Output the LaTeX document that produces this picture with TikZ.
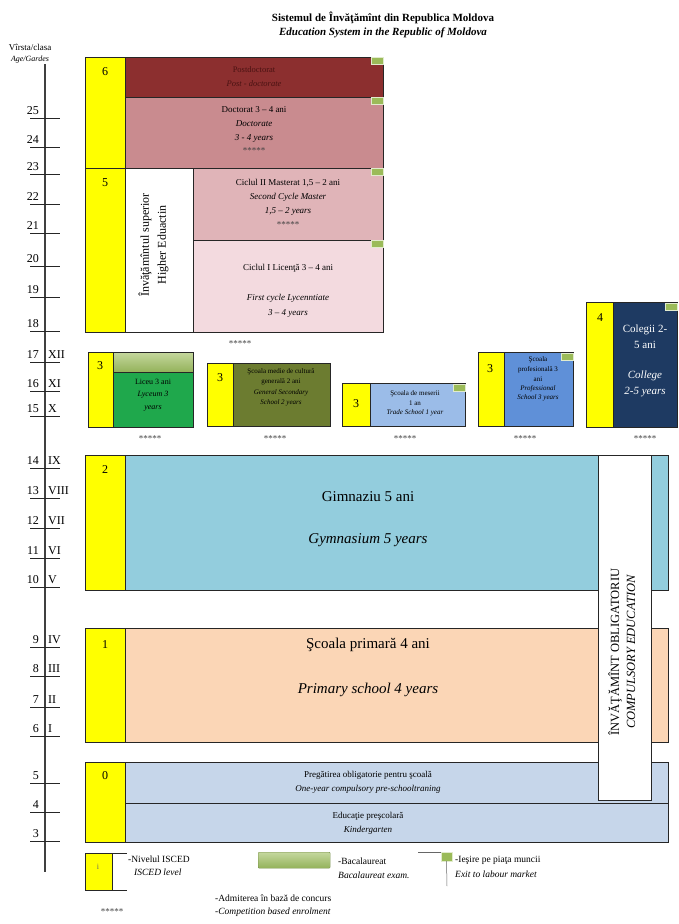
\documentclass[tikz,border=0pt]{standalone}
\usepackage{fontspec}
\setmainfont{Liberation Serif}
\definecolor{isyellow}{HTML}{FFFF00}
\definecolor{postdoc}{HTML}{8C2F2F}
\definecolor{postdoctxt}{HTML}{4A1212}
\definecolor{doct}{HTML}{C98B8F}
\definecolor{mast}{HTML}{E0B4B8}
\definecolor{lic}{HTML}{F3DADF}
\definecolor{lyc}{HTML}{1FA84C}
\definecolor{bactop}{HTML}{C5D89E}
\definecolor{bacbot}{HTML}{93B25A}
\definecolor{gensec}{HTML}{6C7C30}
\definecolor{trade}{HTML}{9BBCE8}
\definecolor{prof}{HTML}{5F90D8}
\definecolor{coll}{HTML}{1E3A62}
\definecolor{gym}{HTML}{93CDDD}
\definecolor{prim}{HTML}{FBD6B6}
\definecolor{presch}{HTML}{C6D6EA}
\definecolor{exitg}{HTML}{9BBB59}
\definecolor{edge}{HTML}{262626}
\newcommand\fs[1]{\fontsize{#1}{#1}\selectfont}
% \rbox{name}{style}{x1}{y1}{x2}{y2}: rectangle between two corners
\newcommand\rbox[6]{\node[#2, anchor=north west, minimum width={(#5-#3)*1pt},
  minimum height={(#6-#4)*1pt}] (#1) at (#3,#4) {};}
\begin{document}
\begin{tikzpicture}[x=1pt,y=-1pt,
  cell/.style={draw=edge, line width=0.8pt, inner sep=0pt, outer sep=0pt},
  lvl/.style={cell, fill=isyellow},
  exitmark/.style={draw=white!70!exitg, line width=0.4pt, fill=exitg, inner sep=0pt,
    outer sep=0pt, minimum width=12pt, minimum height=7pt, anchor=north east},
  lbl/.style={inner sep=0pt, align=center},
  lvlnum/.style={lbl, font=\fs{12}},
  agenum/.style={inner sep=0pt, anchor=east, font=\fs{12}},
  roman/.style={inner sep=0pt, anchor=west, font=\fs{12}},
  tick/.style={line width=0.6pt, draw=edge},
  stars/.style={lbl, font=\fs{9}, text=black!75},
  legtxt/.style={inner sep=0pt, anchor=west, align=left, font=\fs{9.5}}
]
\fill[white] (0,0) rectangle (678,924);

% ---------- title ----------
\node[lbl, font=\fs{11}\bfseries] (title) at (383,18) {Sistemul de Învăţămînt din Republica Moldova};
\node[lbl, font=\fs{11}\bfseries\itshape] (subtitle) at (383,33) {Education System in the Republic of Moldova};

% ---------- age / grade axis ----------
\node[lbl, font=\fs{9}] (axhead) at (30,47) {Vîrsta/clasa};
\node[lbl, font=\fs{8}\itshape] (axsub) at (30,60) {Age/Gardes};
\draw[line width=2.2pt, draw=black!75] (45,64) -- (45,872);
\foreach \a/\r/\yy in {25//111, 24//140, 23//167, 22//197, 21//226, 20//259, 19//290,
  18//324, 17/XII/355, 16/XI/384, 15/X/409, 14/IX/461, 13/VIII/491, 12/VII/521,
  11/VI/551, 10/V/580, 9/IV/640, 8/III/669, 7/II/700, 6/I/729, 5//776, 4//805, 3//834}{
  \node[agenum] (age\a) at (39,\yy) {\a};
  \node[roman] (cls\a) at (48,\yy) {\r};
  \draw[tick] (30,\yy+7) -- (60,\yy+7);
}

% ---------- higher education (ISCED 5-6) ----------
\rbox{lvl6}{lvl}{85}{57}{125}{168}
\rbox{lvl5}{lvl}{85}{168}{125}{332}
\node[lvlnum] (n6) at (105,72) {6};
\node[lvlnum] (n5) at (105,183) {5};

\rbox{postdoc}{cell, fill=postdoc}{125}{57}{383}{97}
\node[lbl, font=\fs{8.5}, text=postdoctxt] (tpd1) at (254,70) {Postdoctorat};
\node[lbl, font=\fs{8.5}\itshape, text=postdoctxt] (tpd2) at (254,84) {Post - doctorate};

\rbox{doct}{cell, fill=doct}{125}{97}{383}{168}
\node[lbl, font=\fs{9}] (td1) at (254,110) {Doctorat 3 – 4 ani};
\node[lbl, font=\fs{9}\itshape] (td2) at (254,124) {Doctorate};
\node[lbl, font=\fs{9}\itshape] (td3) at (254,138) {3 - 4  years};
\node[stars] (td4) at (254,151) {*****};

\rbox{hewhite}{cell, fill=white}{125}{168}{193}{332}
\node[lbl, font=\fs{12}, rotate=90] (he1) at (145,245) {Învăţămîntul superior};
\node[lbl, font=\fs{12}, rotate=90] (he2) at (163,245) {Higher Eduactin};

\rbox{mast}{cell, fill=mast}{193}{168}{383}{240}
\node[lbl, font=\fs{9}] (tm1) at (288,183) {Ciclul II Masterat 1,5 – 2 ani};
\node[lbl, font=\fs{9}\itshape] (tm2) at (288,197) {Second Cycle Master};
\node[lbl, font=\fs{9}\itshape] (tm3) at (288,211) {1,5 – 2  years};
\node[stars] (tm4) at (288,225) {*****};

\rbox{lic}{cell, fill=lic}{193}{240}{383}{332}
\node[lbl, font=\fs{9}] (tl1) at (288,268) {Ciclul I Licenţă 3 – 4 ani};
\node[lbl, font=\fs{9}\itshape] (tl2) at (288,298) {First cycle Lycenntiate};
\node[lbl, font=\fs{9}\itshape] (tl3) at (288,313) {3 – 4  years};
\node[stars] (sthe) at (240,344) {*****};

\node[exitmark] (xpd) at (383,57) {};
\node[exitmark] (xdo) at (383,97) {};
\node[exitmark] (xma) at (383,168) {};
\node[exitmark] (xli) at (383,240) {};

% ---------- upper secondary (ISCED 3-4) ----------
% lyceum
\rbox{lycy}{lvl}{88}{352}{113}{427}
\node[lvlnum] (nly) at (100,366) {3};
\rbox{lycb}{cell, fill=lyc}{113}{372}{193}{427}
\node[cell, anchor=north west, top color=bactop, bottom color=bacbot, minimum width=80pt,
  minimum height=20pt] (lycbac) at (113,352) {};
\node[lbl, font=\fs{8}] (tly1) at (153,382) {Liceu 3 ani};
\node[lbl, font=\fs{8}\itshape] (tly2) at (153,395) {Lyceum 3};
\node[lbl, font=\fs{8}\itshape] (tly3) at (153,408) {years};
\node[stars] (sly) at (150,439) {*****};

% general secondary school
\rbox{gsy}{lvl}{207}{363}{233}{426}
\node[lvlnum] (ngs) at (220,378) {3};
\rbox{gsb}{cell, fill=gensec}{233}{363}{330}{426}
\node[lbl, font=\fs{7}] (tgs1) at (281,372) {Şcoala medie de cultură};
\node[lbl, font=\fs{7}] (tgs2) at (281,382) {generală 2 ani};
\node[lbl, font=\fs{7}\itshape] (tgs3) at (281,393) {General Secondary};
\node[lbl, font=\fs{7}\itshape] (tgs4) at (281,403) {School 2 years};
\node[stars] (sgs) at (275,439) {*****};

% trade school
\rbox{try}{lvl}{342}{383}{370}{426}
\node[lvlnum] (ntr) at (356,404) {3};
\rbox{trb}{cell, fill=trade}{370}{383}{465}{426}
\node[lbl, font=\fs{7}] (ttr1) at (415,394) {Şcoala de meserii};
\node[lbl, font=\fs{7}] (ttr2) at (415,403) {1 an};
\node[lbl, font=\fs{7}\itshape] (ttr3) at (415,413) {Trade School 1 year};
\node[exitmark] (xtr) at (465,384) {};
\node[stars] (str) at (405,439) {*****};

% professional school
\rbox{pry}{lvl}{478}{352}{504}{426}
\node[lvlnum] (npr) at (490,369) {3};
\rbox{prb}{cell, fill=prof}{504}{352}{573}{426}
\node[lbl, font=\fs{7}] (tpr1) at (538,360) {Şcoala};
\node[lbl, font=\fs{7}] (tpr2) at (538,370) {profesională 3};
\node[lbl, font=\fs{7}] (tpr3) at (538,379) {ani};
\node[lbl, font=\fs{7}\itshape] (tpr4) at (538,389) {Professional};
\node[lbl, font=\fs{7}\itshape] (tpr5) at (538,398) {School 3 years};
\node[exitmark] (xpr) at (573,353) {};
\node[stars] (spr) at (525,439) {*****};

% college
\rbox{coy}{lvl}{586}{302}{613}{427}
\node[lvlnum] (nco) at (600,318) {4};
\rbox{cob}{cell, fill=coll}{613}{302}{677}{427}
\node[lbl, font=\fs{11}, text=white] (tco1) at (645,330) {Colegii 2-};
\node[lbl, font=\fs{11}, text=white] (tco2) at (645,345) {5 ani};
\node[lbl, font=\fs{11}\itshape, text=white] (tco3) at (645,376) {College};
\node[lbl, font=\fs{11}\itshape, text=white] (tco4) at (645,392) {2-5 years};
\node[exitmark] (xco) at (677,303) {};
\node[stars] (sco) at (645,439) {*****};

% ---------- gymnasium (ISCED 2) ----------
\rbox{gymy}{lvl}{85}{455}{125}{590}
\node[lvlnum] (n2) at (105,470) {2};
\rbox{gymb}{cell, fill=gym}{125}{455}{668}{590}
\node[lbl, font=\fs{15}] (tg1) at (368,497) {Gimnaziu 5 ani};
\node[lbl, font=\fs{15}\itshape] (tg2) at (368,540) {Gymnasium 5 years};

% ---------- primary (ISCED 1) ----------
\rbox{primy}{lvl}{85}{628}{125}{742}
\node[lvlnum] (n1) at (105,645) {1};
\rbox{primb}{cell, fill=prim}{125}{628}{668}{742}
\node[lbl, font=\fs{15}] (tp1) at (368,645) {Şcoala primară 4 ani};
\node[lbl, font=\fs{15}\itshape] (tp2) at (368,690) {Primary school 4 years};

% ---------- pre-school (ISCED 0) ----------
\rbox{presy}{lvl}{85}{762}{125}{842}
\node[lvlnum] (n0) at (105,776) {0};
\rbox{presa}{cell, fill=presch}{125}{762}{668}{803}
\node[lbl, font=\fs{9}] (tk1) at (368,775) {Pregătirea obligatorie pentru şcoală};
\node[lbl, font=\fs{9}\itshape] (tk2) at (368,789) {One-year compulsory pre-schooltraning};
\rbox{presb}{cell, fill=presch}{125}{803}{668}{842}
\node[lbl, font=\fs{9}] (tk3) at (368,816) {Educaţie preşcolară};
\node[lbl, font=\fs{9}\itshape] (tk4) at (368,830) {Kindergarten};

% ---------- compulsory education band ----------
\rbox{comp}{cell, fill=white}{598}{455}{651}{800}
\node[lbl, font=\fs{12.5}, rotate=90] (tc1) at (615,652) {ÎNVĂŢĂMÎNT OBLIGATORIU};
\node[lbl, font=\fs{12.5}\itshape, rotate=90] (tc2) at (631,652) {COMPULSORY EDUCATION};

% ---------- legend ----------
\rbox{legy}{lvl}{85}{853}{112}{890}
\node[lbl, font=\fs{8}, text=black!60] (legi) at (98,867) {i};
\draw[line width=0.8pt, draw=edge] (112,853) -- (127,853);
\draw[line width=0.8pt, draw=edge] (85,890) -- (127,890);
\node[legtxt] (leg1a) at (128,859) {-Nivelul ISCED};
\node[legtxt, font=\fs{9.5}\itshape] (leg1b) at (134,872) {ISCED level};

\node[draw=bacbot!80!black, line width=0.4pt, rounded corners=1pt, top color=bactop,
  bottom color=bacbot, anchor=north west, minimum width=72pt, minimum height=16pt,
  inner sep=0pt] (legbac) at (258,852) {};
\node[legtxt] (leg2a) at (338,861) {-Bacalaureat};
\node[legtxt, font=\fs{9.5}\itshape] (leg2b) at (338,875) {Bacalaureat exam.};

\coordinate (exl) at (418,852);
\node[exitmark, anchor=north west, minimum width=11pt, minimum height=9pt] (legex) at (441,852) {};
\coordinate (exb) at (447,886);
\draw[line width=0.5pt, draw=black!60] (exl) -- (legex.north west);
\draw[line width=0.5pt, draw=black!60] (legex.south) -- (exb);
\node[legtxt] (leg3a) at (455,860) {-Ieşire pe piaţa muncii};
\node[legtxt, font=\fs{9.5}\itshape] (leg3b) at (455,874) {Exit to labour market};

\node[stars] (legst) at (112,912) {*****};
\node[legtxt] (leg4a) at (215,898) {-Admiterea în bază de concurs};
\node[legtxt, font=\fs{9.5}\itshape] (leg4b) at (215,912) {-Competition based enrolment};
\end{tikzpicture}
\end{document}
